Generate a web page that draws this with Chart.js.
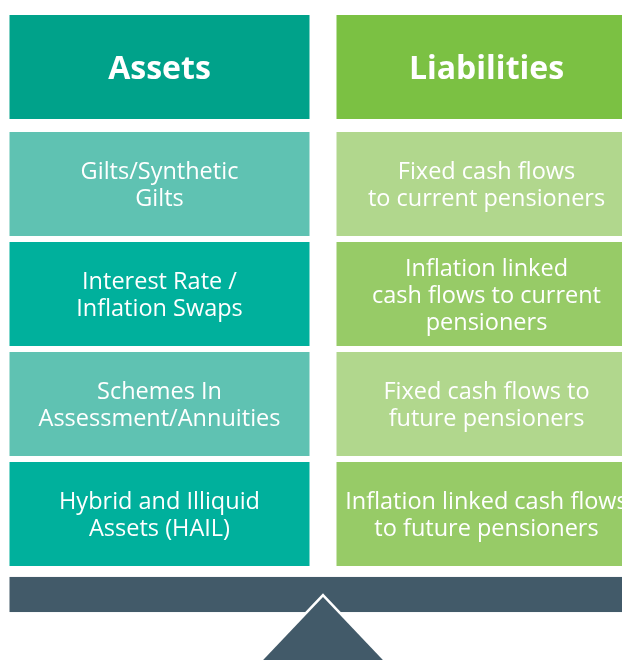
<!DOCTYPE html>
<html>
<head>
<meta charset="utf-8">
<script src="https://cdn.jsdelivr.net/npm/chart.js@4/dist/chart.umd.min.js"></script>
<style>
html, body { margin: 0; padding: 0; background: #fff; overflow: hidden; width: 622px; height: 660px; }
#wrap { position: absolute; left: -4px; top: 0; width: 654px; height: 660px; }
</style>
</head>
<body>
<div id="wrap"><canvas id="chart1"></canvas></div>
<script>
"use strict";

// DATA

const columns = ["Assets", "Liabilities"];
const assetItems = [
    "Gilts/Synthetic\nGilts",
    "Interest Rate /\nInflation Swaps",
    "Schemes In\nAssessment/Annuities",
    "Hybrid and Illiquid\nAssets (HAIL)"
];
const liabilityItems = [
    "Fixed cash flows\nto current pensioners",
    "Inflation linked\ncash flows to current\npensioners",
    "Fixed cash flows to\nfuture pensioners",
    "Inflation linked cash flows\nto future pensioners"
];

const headerColors = ["#00a28a", "#7bc143"];
const lightColors = ["#5fc2b2", "#b1d78d"];
const darkColors = ["#00b09c", "#97cb67"];
const beamColor = "#425a69";

// each row is one level on the y axis, header sits just above level 1
const ROW_SIZE = 0.945;
const HEADER = [-0.064, 0.882];
const BEAM = [5.045, 5.364];

const datasets = [{
    label: "header",
    data: columns.map(() => HEADER),
    backgroundColor: headerColors,
    texts: columns,
    bold: true
}];

assetItems.forEach((item, i) => {
    datasets.push({
        label: "row" + (i + 1),
        data: columns.map(() => [i + 1, i + 1 + ROW_SIZE]),
        backgroundColor: i % 2 === 0 ? lightColors : darkColors,
        texts: [item, liabilityItems[i]],
        bold: false
    });
});

// BEAM + FULCRUM

const beamPlugin = {
    id: "beam",
    afterDatasetsDraw(chart) {
        const ctx = chart.ctx;
        const y = chart.scales.y;
        const area = chart.chartArea;
        const top = y.getPixelForValue(BEAM[0]);
        const bottom = y.getPixelForValue(BEAM[1]);
        const left = chart.getDatasetMeta(0).data[0];
        const x0 = left.x - left.width / 2;
        ctx.save();
        ctx.fillStyle = beamColor;
        ctx.fillRect(x0, top, area.right - x0, bottom - top);

        const cx = (area.left + area.right) / 2;
        const apex = y.getPixelForValue(5.227);
        const base = area.bottom + 4;
        const half = (base - apex) * 0.95;
        ctx.beginPath();
        ctx.moveTo(cx, apex);
        ctx.lineTo(cx + half, base);
        ctx.lineTo(cx - half, base);
        ctx.closePath();
        ctx.strokeStyle = "#ffffff";
        ctx.lineWidth = 5;
        ctx.lineJoin = "miter";
        ctx.stroke();
        ctx.fillStyle = beamColor;
        ctx.fill();
        ctx.restore();
    }
};

// TEXT INSIDE BOXES

const labelPlugin = {
    id: "boxLabels",
    afterDatasetsDraw(chart) {
        const ctx = chart.ctx;
        ctx.save();
        ctx.fillStyle = "#ffffff";
        ctx.textAlign = "center";
        ctx.textBaseline = "middle";
        chart.data.datasets.forEach((ds, d) => {
            const meta = chart.getDatasetMeta(d);
            meta.data.forEach((el, i) => {
                const lines = ds.texts[i].split("\n");
                const lh = ds.bold ? 40 : 27;
                ctx.font = ds.bold ? "bold 32px 'Open Sans'" : "23.5px 'Open Sans'";
                const cy = (el.y + el.base) / 2 + (ds.bold ? 3 : 2);
                lines.forEach((line, k) => {
                    ctx.fillText(line, el.x, cy + (k - (lines.length - 1) / 2) * lh);
                });
            });
        });
        ctx.restore();
    }
};

const ctx = document.getElementById("chart1").getContext("2d");

const myChart = new Chart(ctx, {
    type: "bar",
    data: {
        labels: columns,
        datasets: datasets
    },
    options: {
        responsive: true,
        maintainAspectRatio: false,
        animation: false,
        layout: { padding: 0 },
        datasets: {
            bar: {
                grouped: false,
                barPercentage: 300 / 327,
                categoryPercentage: 1,
                borderWidth: 0,
                borderSkipped: false
            }
        },
        plugins: {
            legend: { display: false },
            tooltip: { enabled: false },
            title: { display: false }
        },
        scales: {
            x: { display: false },
            y: { display: false, reverse: true, min: -0.2, max: 5.8 }
        }
    },
    plugins: [beamPlugin, labelPlugin]
});
</script>
</body>
</html>
